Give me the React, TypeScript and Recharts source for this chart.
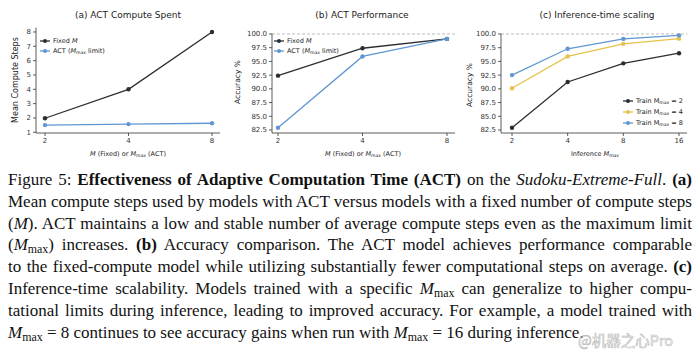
import React from 'react';
import { LineChart, Line, XAxis, YAxis, ReferenceLine } from 'recharts';

// ---- data ----
const stepsX = ['2', '4', '8'];
const fixedSteps = [1.98, 4.0, 8.0];
const actSteps = [1.5, 1.57, 1.63];
const stepTicks = [1, 2, 3, 4, 5, 6, 7, 8];

const perfX = ['2', '4', '8'];
const fixedAcc = [92.4, 97.4, 99.1];
const actAcc = [82.9, 95.9, 99.1];

const scaleX = ['2', '4', '8', '16'];
const train2 = [82.9, 91.25, 94.65, 96.5];
const train4 = [90.1, 95.9, 98.2, 99.15];
const train8 = [92.5, 97.3, 99.1, 99.75];
const accTicks = [82.5, 85, 87.5, 90, 92.5, 95, 97.5, 100];

const stepsData = stepsX.map((x, i) => ({ x, fixed: fixedSteps[i], act: actSteps[i] }));
const perfData = perfX.map((x, i) => ({ x, fixed: fixedAcc[i], act: actAcc[i] }));
const scaleData = scaleX.map((x, i) => ({ x, t2: train2[i], t4: train4[i], t8: train8[i] }));

const DARK = '#2a2e33';
const BLUE = '#6097d2';
const GOLD = '#e7c24a';
const AX = '#333';
const SANS = '"DejaVu Sans", sans-serif';

const tickStyle = { fontSize: 7, fill: '#333', fontFamily: SANS };

const Mmax = () => (
  <span>
    <i>M</i>
    <sub style={{ fontSize: '0.7em', verticalAlign: '-0.25em', lineHeight: 0 }}>max</sub>
  </span>
);

const abs = (left: number, top: number, extra: any = {}) => ({
  position: 'absolute' as const,
  left,
  top,
  ...extra,
});

const Title = ({ cx, cy, children }: any) => (
  <div style={abs(cx - 100, cy - 7, { width: 200, textAlign: 'center', fontFamily: SANS, fontSize: 9, color: '#222', lineHeight: '14px' })}>
    {children}
  </div>
);

const XLab = ({ cx, cy, children }: any) => (
  <div style={abs(cx - 100, cy - 6, { width: 200, textAlign: 'center', fontFamily: SANS, fontSize: 6.5, color: '#222', lineHeight: '12px', whiteSpace: 'nowrap' })}>
    {children}
  </div>
);

const YLab = ({ cx, cy, size, children }: any) => (
  <div
    style={abs(cx - 60, cy - 6, {
      width: 120,
      textAlign: 'center',
      fontFamily: SANS,
      fontSize: size,
      color: '#222',
      lineHeight: '12px',
      transform: 'rotate(-90deg)',
      whiteSpace: 'nowrap',
    })}
  >
    {children}
  </div>
);

const LegendRow = ({ x, y, color, children }: any) => (
  <div style={abs(x, y - 5, { height: 10, display: 'flex', alignItems: 'center', fontFamily: SANS, fontSize: 6.5, color: '#222', whiteSpace: 'nowrap' })}>
    <svg width={10} height={6} style={{ marginRight: 3 }}>
      <line x1={0} y1={3} x2={10} y2={3} stroke={color} strokeWidth={1.3} />
      <circle cx={5} cy={3} r={2} fill={color} />
    </svg>
    <span>{children}</span>
  </div>
);

const lineProps = (color: string) => ({
  type: 'linear' as const,
  stroke: color,
  strokeWidth: 1.3,
  dot: { r: 2.2, fill: color, stroke: color, strokeWidth: 0 },
  activeDot: false as any,
  isAnimationActive: false,
});

const axisCommon = {
  tickLine: { stroke: AX, strokeWidth: 0.8 },
  axisLine: { stroke: AX, strokeWidth: 0.8 },
  tickSize: 3,
  tick: tickStyle,
};

const CaptionLine = ({ children, last }: any) => (
  <div style={{ textAlign: last ? 'left' : 'justify', textAlignLast: last ? 'left' : 'justify', height: 21.8 } as any}>{children}</div>
);

export default function App() {
  return (
    <div style={abs(0, 0, { width: 700, height: 354, background: '#fff', overflow: 'hidden' })}>
      {/* Panel (a) */}
      <div style={abs(0, 0)}>
        <LineChart width={230} height={170} data={stepsData} margin={{ top: 27.7, right: 10, bottom: 7, left: 0 }}>
          <XAxis dataKey="x" type="category" interval={0} padding={{ left: 9, right: 8 }} height={30} {...axisCommon} />
          <YAxis type="number" domain={[0.95, 8.3]} ticks={stepTicks} width={36} {...axisCommon} />
          <Line dataKey="fixed" {...lineProps(DARK)} />
          <Line dataKey="act" {...lineProps(BLUE)} />
        </LineChart>
      </div>
      <Title cx={128} cy={15}>(a) ACT Compute Spent</Title>
      <YLab cx={16} cy={80} size={8}>Mean Compute Steps</YLab>
      <XLab cx={128} cy={154}>
        <i>M</i> (Fixed) or <Mmax /> (ACT)
      </XLab>
      <LegendRow x={40} y={41} color={DARK}>
        Fixed <i>M</i>
      </LegendRow>
      <LegendRow x={40} y={51} color={BLUE}>
        ACT (<Mmax /> limit)
      </LegendRow>

      {/* Panel (b) */}
      <div style={abs(230, 0)}>
        <LineChart width={235} height={170} data={perfData} margin={{ top: 33.7, right: 10, bottom: 7, left: 0 }}>
          <XAxis dataKey="x" type="category" interval={0} padding={{ left: 6, right: 8 }} height={30} {...axisCommon} />
          <YAxis type="number" domain={[81.95, 100.05]} ticks={accTicks} tickFormatter={(v: number) => v.toFixed(1)} width={42} {...axisCommon} />
          <ReferenceLine y={100} stroke="#aaa" strokeDasharray="3 2" strokeWidth={0.8} />
          <Line dataKey="fixed" {...lineProps(DARK)} />
          <Line dataKey="act" {...lineProps(BLUE)} />
        </LineChart>
      </div>
      <Title cx={362} cy={15}>(b) ACT Performance</Title>
      <YLab cx={238} cy={82} size={7.5}>Accuracy %</YLab>
      <XLab cx={363} cy={154}>
        <i>M</i> (Fixed) or <Mmax /> (ACT)
      </XLab>
      <LegendRow x={274} y={41} color={DARK}>
        Fixed <i>M</i>
      </LegendRow>
      <LegendRow x={274} y={51} color={BLUE}>
        ACT (<Mmax /> limit)
      </LegendRow>

      {/* Panel (c) */}
      <div style={abs(460, 0)}>
        <LineChart width={240} height={170} data={scaleData} margin={{ top: 33.7, right: 13, bottom: 7, left: 0 }}>
          <XAxis dataKey="x" type="category" interval={0} padding={{ left: 11, right: 8 }} height={30} {...axisCommon} />
          <YAxis type="number" domain={[81.95, 100.05]} ticks={accTicks} tickFormatter={(v: number) => v.toFixed(1)} width={41} {...axisCommon} />
          <ReferenceLine y={100} stroke="#aaa" strokeDasharray="3 2" strokeWidth={0.8} />
          <Line dataKey="t2" {...lineProps(DARK)} />
          <Line dataKey="t4" {...lineProps(GOLD)} />
          <Line dataKey="t8" {...lineProps(BLUE)} />
        </LineChart>
      </div>
      <Title cx={597} cy={15}>(c) Inference-time scaling</Title>
      <YLab cx={470} cy={85} size={7.5}>Accuracy %</YLab>
      <XLab cx={595} cy={154}>
        Inference <Mmax />
      </XLab>
      <LegendRow x={623} y={101} color={DARK}>
        Train M<sub style={{ fontSize: '0.7em', verticalAlign: '-0.25em', lineHeight: 0 }}>max</sub> = 2
      </LegendRow>
      <LegendRow x={623} y={112} color={GOLD}>
        Train M<sub style={{ fontSize: '0.7em', verticalAlign: '-0.25em', lineHeight: 0 }}>max</sub> = 4
      </LegendRow>
      <LegendRow x={623} y={123} color={BLUE}>
        Train M<sub style={{ fontSize: '0.7em', verticalAlign: '-0.25em', lineHeight: 0 }}>max</sub> = 8
      </LegendRow>

      {/* Caption */}
      <div style={abs(8, 169, { width: 684, fontFamily: '"Liberation Serif", serif', fontSize: 17, lineHeight: '21.8px', color: '#111' })}>
        <CaptionLine>
          Figure 5: <b>Effectiveness of Adaptive Computation Time (ACT)</b> on the <i>Sudoku-Extreme-Full</i>. <b>(a)</b>
        </CaptionLine>
        <CaptionLine>Mean compute steps used by models with ACT versus models with a fixed number of compute steps</CaptionLine>
        <CaptionLine>
          (<i>M</i>). ACT maintains a low and stable number of average compute steps even as the maximum limit
        </CaptionLine>
        <CaptionLine>
          (<Mmax />) increases. <b>(b)</b> Accuracy comparison. The ACT model achieves performance comparable
        </CaptionLine>
        <CaptionLine>
          to the fixed-compute model while utilizing substantially fewer computational steps on average. <b>(c)</b>
        </CaptionLine>
        <CaptionLine>
          Inference-time scalability. Models trained with a specific <Mmax /> can generalize to higher compu-
        </CaptionLine>
        <CaptionLine>tational limits during inference, leading to improved accuracy. For example, a model trained with</CaptionLine>
        <CaptionLine last>
          <Mmax /> = 8 continues to see accuracy gains when run with <Mmax /> = 16 during inference.
        </CaptionLine>
      </div>
      <div
        style={abs(578, 330, {
          fontFamily: '"Noto Sans CJK SC", sans-serif',
          fontSize: 14.5,
          color: 'rgba(255,255,255,0.55)',
          WebkitTextStroke: '0.6px rgba(150,150,150,0.7)',
          lineHeight: '20px',
          whiteSpace: 'nowrap',
        })}
      >
        @机器之心Pro
      </div>
    </div>
  );
}
